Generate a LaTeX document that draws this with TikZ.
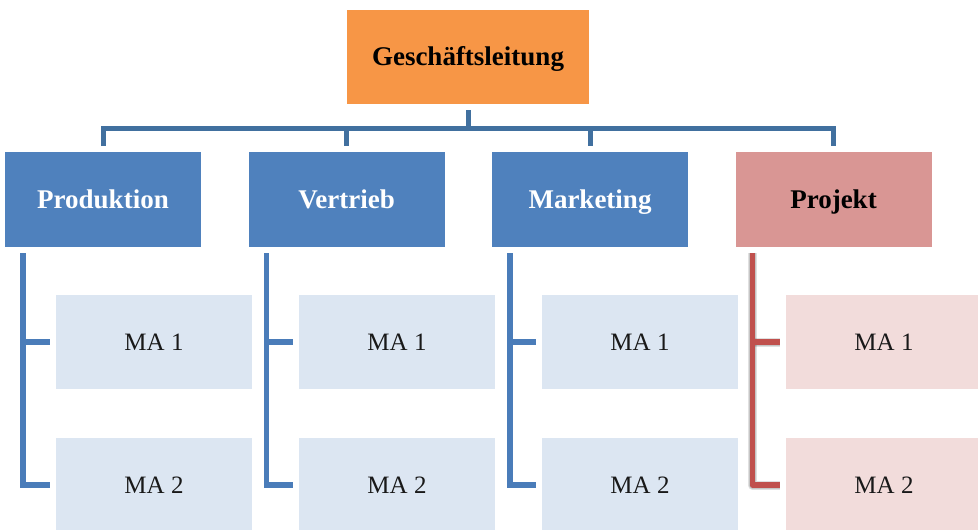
\documentclass[tikz,border=0pt]{standalone}
\usepackage{fontspec}
\setmainfont{Liberation Serif}
\definecolor{headorange}{HTML}{F79646}
\definecolor{unitblue}{HTML}{4F81BD}
\definecolor{staffblue}{HTML}{DCE6F2}
\definecolor{projrose}{HTML}{D99694}
\definecolor{staffrose}{HTML}{F2DCDB}
\definecolor{barblue}{HTML}{41709F}
\definecolor{sideblue}{HTML}{4A7CB9}
\definecolor{sidered}{HTML}{C0504D}
\tikzset{
  box/.style={minimum width=196pt, minimum height=95pt, inner sep=0pt, outer sep=0pt,
    text depth=0pt},
  boldtext/.style={font=\fontsize{27}{30}\selectfont\bfseries, text height=17.9pt},
  plaintext/.style={font=\fontsize{25}{28}\selectfont, text height=16.5pt},
  headbox/.style={box, boldtext, minimum width=242pt, minimum height=94pt, fill=headorange},
  unitbox/.style={box, boldtext, fill=unitblue, text=white},
  projbox/.style={box, boldtext, fill=projrose, text=black},
  staffbox/.style={box, plaintext, minimum height=94pt, fill=staffblue, text=black!90},
  projstaff/.style={box, plaintext, minimum height=94pt, fill=staffrose, text=black!90},
  barline/.style={draw=barblue, line width=5pt, line join=miter},
  sideline/.style={draw=sideblue, line width=5.5pt, line join=miter},
  redline/.style={draw=sidered, line width=5.5pt, line join=round},
  redshade/.style={draw=black, line width=#1, line join=round, opacity=0.12},
}
\begin{document}
\begin{tikzpicture}[x=1pt, y=-1pt]
  \useasboundingbox (0,0) rectangle (978,530);
  \clip (0,0) rectangle (978,530);

  % management
  \node[headbox] (top) at (468,57) {Geschäftsleitung};

  % departments
  \node[unitbox] (pro) at (103,199.5) {Produktion};
  \node[unitbox] (ver) at (346.5,199.5) {Vertrieb};
  \node[unitbox] (mar) at (590,199.5) {Marketing};
  \node[projbox] (prj) at (833.5,199.5) {Projekt};

  % staff
  \foreach \d/\x in {pro/56, ver/299, mar/542} {
    \node[staffbox, anchor=north west] (\d1) at (\x,295) {MA 1};
    \node[staffbox, anchor=north west] (\d2) at (\x,438) {MA 2};
  }
  \node[projstaff, anchor=north west] (prj1) at (786,295) {MA 1};
  \node[projstaff, anchor=north west] (prj2) at (786,438) {MA 2};

  % connectors from the management box to the departments
  \coordinate (bar) at (0,128);
  \draw[barline] ([yshift=-6pt]top.south) -- (top.south |- bar);
  \draw[barline] ([yshift=6pt]pro.north) |- (prj.north |- bar) -- ([yshift=6pt]prj.north);
  \draw[barline] (ver.north |- bar) -- ([yshift=6pt]ver.north);
  \draw[barline] (mar.north |- bar) -- ([yshift=6pt]mar.north);

  % connectors from the departments to their staff
  \foreach \d in {pro, ver, mar} {
    \coordinate (\d v) at ([xshift=18pt]\d.south west);
    \draw[sideline] ([yshift=-6pt]\d v) |- ([xshift=-6pt]\d2.west);
    \draw[sideline] (\d v |- \d1.west) -- ([xshift=-6pt]\d1.west);
  }

  % project staff connectors, with a soft shadow
  \coordinate (prjv) at ([xshift=17pt]prj.south west);
  \begin{scope}[shift={(3,3)}]
    \foreach \w in {9pt, 7pt, 5pt} {
      \draw[redshade=\w] ([yshift=-6pt]prjv) |- ([xshift=-6pt]prj2.west);
      \draw[redshade=\w] (prjv |- prj1.west) -- ([xshift=-6pt]prj1.west);
    }
  \end{scope}
  \draw[redline] ([yshift=-6pt]prjv) |- ([xshift=-6pt]prj2.west);
  \draw[redline] (prjv |- prj1.west) -- ([xshift=-6pt]prj1.west);
\end{tikzpicture}
\end{document}
